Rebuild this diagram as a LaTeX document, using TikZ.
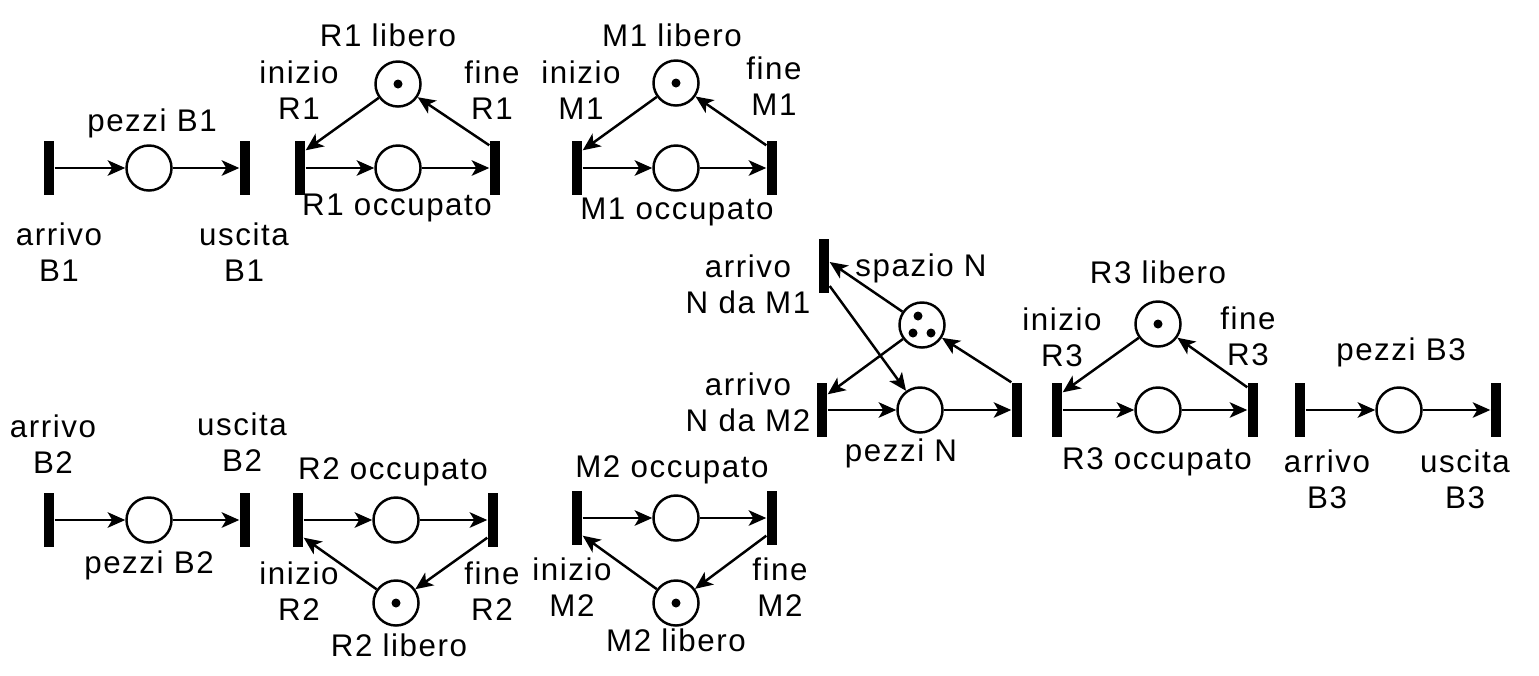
\documentclass[tikz,border=0pt]{standalone}
\usepackage{fontspec}
\newfontfamily\labelfont{Liberation Sans}[LetterSpace=5]
\usepackage{tikz}
\usetikzlibrary{arrows.meta}

\begin{document}
\begin{tikzpicture}[x=0.01cm, y=-0.01cm,
  place/.style={draw, circle, line width=0.7pt, minimum size=0.45cm, inner sep=0pt},
  trans/.style={fill, rectangle, minimum width=0.1cm, minimum height=0.54cm, inner sep=0pt},
  arc/.style={-{Stealth[length=5pt, width=4.4pt, inset=1.3pt]}, line width=0.7pt},
  lab/.style={align=center, inner sep=0pt, font=\labelfont\fontsize{8.9}{10.3}\selectfont}
]
  \useasboundingbox (0,0) rectangle (1539,675);

  % Buffer B1
  \node[trans] (arrB1) at (49,168) {};
  \node[place] (pB1) at (149,168) {};
  \node[trans] (uscB1) at (245,168) {};
  \node[lab] (lpB1) at (152,123) {pezzi B1};
  \node[lab] (larrB1) at (59,252) {arrivo\\B1};
  \node[lab] (luscB1) at (244,252) {uscita\\B1};
  \draw[arc] (arrB1) -- (pB1);
  \draw[arc] (pB1) -- (uscB1);

  % Robot R1
  \node[trans] (iniR1) at (300,168) {};
  \node[place] (occR1) at (398,168) {};
  \node[trans] (finR1) at (495,168) {};
  \node[place] (libR1) at (398,84) {};
  \fill (libR1) circle[radius=0.045cm];
  \node[lab] (llibR1) at (388,35) {R1 libero};
  \node[lab] (liniR1) at (299,90) {inizio\\R1};
  \node[lab] (lfinR1) at (492,90) {fine\\R1};
  \node[lab] (loccR1) at (397,208) {R1 occupato};
  \draw[arc] (iniR1) -- (occR1);
  \draw[arc] (occR1) -- (finR1);
  \draw[arc] (libR1) -- ([yshift=-0.1cm]iniR1.north east);
  \draw[arc] ([yshift=-0.05cm]finR1.north west) -- (libR1);

  % Macchina M1
  \node[trans] (iniM1) at (577,168) {};
  \node[place] (occM1) at (676,168) {};
  \node[trans] (finM1) at (772,168) {};
  \node[place] (libM1) at (676,83) {};
  \fill (libM1) circle[radius=0.045cm];
  \node[lab] (llibM1) at (672,35) {M1 libero};
  \node[lab] (liniM1) at (581,90) {inizio\\M1};
  \node[lab] (lfinM1) at (774,86) {fine\\M1};
  \node[lab] (loccM1) at (677,212) {M1 occupato};
  \draw[arc] (iniM1) -- (occM1);
  \draw[arc] (occM1) -- (finM1);
  \draw[arc] (libM1) -- ([yshift=-0.1cm]iniM1.north east);
  \draw[arc] ([yshift=-0.05cm]finM1.north west) -- (libM1);

  % Nastro N
  \node[trans] (arrN1) at (824,266) {};
  \node[place] (spN) at (922,325) {};
  \node[trans] (arrN2) at (822,410) {};
  \node[place] (pN) at (920,410) {};
  \node[trans] (finN) at (1017,410) {};
  \fill ([shift={(-4,-9)}]spN.center) circle[radius=0.045cm];
  \fill ([shift={(-9,8)}]spN.center) circle[radius=0.045cm];
  \fill ([shift={(9,8)}]spN.center) circle[radius=0.045cm];
  \node[lab] (larrN1) at (748,284) {arrivo\\N da M1};
  \node[lab] (lspN) at (921,268) {spazio N};
  \node[lab] (larrN2) at (748,402) {arrivo\\N da M2};
  \node[lab] (lpN) at (901,453) {pezzi N};
  \draw[arc] (spN) -- ([yshift=0.04cm]arrN1.east);
  \draw[arc] ([yshift=-0.2cm]arrN1.east) -- (pN);
  \draw[arc] (spN) -- ([yshift=-0.12cm]arrN2.north east);
  \draw[arc] (arrN2) -- (pN);
  \draw[arc] (pN) -- (finN);
  \draw[arc] (finN.north west) -- (spN);

  % Robot R3
  \node[trans] (iniR3) at (1057,410) {};
  \node[place] (occR3) at (1158,410) {};
  \node[trans] (finR3) at (1253,410) {};
  \node[place] (libR3) at (1158,324) {};
  \fill (libR3) circle[radius=0.045cm];
  \node[lab] (llibR3) at (1158,272) {R3 libero};
  \node[lab] (liniR3) at (1062,337) {inizio\\R3};
  \node[lab] (lfinR3) at (1248,336) {fine\\R3};
  \node[lab] (loccR3) at (1157,462) {R3 occupato};
  \draw[arc] (iniR3) -- (occR3);
  \draw[arc] (occR3) -- (finR3);
  \draw[arc] (libR3) -- ([yshift=-0.1cm]iniR3.north east);
  \draw[arc] ([yshift=-0.05cm]finR3.north west) -- (libR3);

  % Buffer B3
  \node[trans] (arrB3) at (1300,410) {};
  \node[place] (pB3) at (1399,410) {};
  \node[trans] (uscB3) at (1496,410) {};
  \node[lab] (lpB3) at (1401,352) {pezzi B3};
  \node[lab] (larrB3) at (1327,479) {arrivo\\B3};
  \node[lab] (luscB3) at (1465,479) {uscita\\B3};
  \draw[arc] (arrB3) -- (pB3);
  \draw[arc] (pB3) -- (uscB3);

  % Buffer B2
  \node[trans] (arrB2) at (49,520) {};
  \node[place] (pB2) at (149,520) {};
  \node[trans] (uscB2) at (245,520) {};
  \node[lab] (lpB2) at (149,565) {pezzi B2};
  \node[lab] (larrB2) at (53,444) {arrivo\\B2};
  \node[lab] (luscB2) at (242,442) {uscita\\B2};
  \draw[arc] (arrB2) -- (pB2);
  \draw[arc] (pB2) -- (uscB2);

  % Robot R2
  \node[trans] (iniR2) at (298,520) {};
  \node[place] (occR2) at (396,520) {};
  \node[trans] (finR2) at (493,520) {};
  \node[place] (libR2) at (396,603) {};
  \fill (libR2) circle[radius=0.045cm];
  \node[lab] (loccR2) at (393,472) {R2 occupato};
  \node[lab] (liniR2) at (299,591) {inizio\\R2};
  \node[lab] (lfinR2) at (492,591) {fine\\R2};
  \node[lab] (llibR2) at (399,645) {R2 libero};
  \draw[arc] (iniR2) -- (occR2);
  \draw[arc] (occR2) -- (finR2);
  \draw[arc] (libR2) -- ([yshift=0.1cm]iniR2.south east);
  \draw[arc] ([yshift=0.1cm]finR2.south west) -- (libR2);

  % Macchina M2
  \node[trans] (iniM2) at (577,518) {};
  \node[place] (occM2) at (676,518) {};
  \node[trans] (finM2) at (772,518) {};
  \node[place] (libM2) at (676,603) {};
  \fill (libM2) circle[radius=0.045cm];
  \node[lab] (loccM2) at (672,470) {M2 occupato};
  \node[lab] (liniM2) at (572,587) {inizio\\M2};
  \node[lab] (lfinM2) at (780,587) {fine\\M2};
  \node[lab] (llibM2) at (676,640) {M2 libero};
  \draw[arc] (iniM2) -- (occM2);
  \draw[arc] (occM2) -- (finM2);
  \draw[arc] (libM2) -- ([yshift=0.1cm]iniM2.south east);
  \draw[arc] ([yshift=0.1cm]finM2.south west) -- (libM2);
\end{tikzpicture}
\end{document}
